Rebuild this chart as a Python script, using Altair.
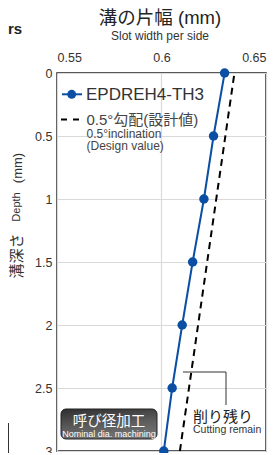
import altair as alt
import pandas as pd

# ---- data ----
depth = [0, 0.5, 1, 1.5, 2, 2.5, 3]
measured = [0.6302, 0.6249, 0.6203, 0.6149, 0.6099, 0.6051, 0.6011]
design_depth = [0, 3]
design_width = [0.6349, 0.6088]
x_ticks = [0.55, 0.6, 0.65]
y_ticks = [0, 0.5, 1, 1.5, 2, 2.5, 3]

series_name = "EPDREH4-TH3"
design_jp = "0.5°勾配(設計値)"
design_en1 = "0.5°inclination"
design_en2 = "(Design value)"
title_jp = "溝の片幅 (mm)"
title_en = "Slot width per side"
ytitle_jp = "溝深さ"
ytitle_en = "Depth"
ytitle_unit = "(mm)"
box_jp = "呼び径加工"
box_en = "Nominal dia. machining"
remain_jp = "削り残り"
remain_en = "Cutting remain"

FONT = "Liberation Sans, 'Noto Sans CJK JP', sans-serif"
BLUE = "#0a4fa3"
W, H = 209, 378

df = pd.DataFrame({"depth": depth, "width": measured})
dd = pd.DataFrame({"depth": design_depth, "width": design_width})
one = pd.DataFrame({"a": [0]})

xs = alt.Scale(domain=[0.55, 0.65], nice=False, zero=False)
ys = alt.Scale(domain=[0, 3], reverse=True, nice=False, zero=False)

xenc = alt.X("width:Q", scale=xs, axis=alt.Axis(orient="top", values=x_ticks, format="~g",
                                                 title=None, ticks=False, domain=False,
                                                 labelPadding=9, grid=True))
yenc = alt.Y("depth:Q", scale=ys, axis=alt.Axis(values=y_ticks, format="~g", title=None,
                                                 ticks=False, domain=False, labelPadding=5,
                                                 grid=True))

design = alt.Chart(dd).mark_line(color="black", strokeWidth=2, strokeDash=[7, 5]).encode(
    x=xenc, y=yenc)
line = alt.Chart(df).mark_line(color=BLUE, strokeWidth=2).encode(x="width:Q", y="depth:Q")
pts = alt.Chart(df).mark_point(filled=True, color=BLUE, size=90, opacity=1).encode(
    x="width:Q", y="depth:Q")


def txt(s, x, y, size, color="#333", align="left", angle=0, weight="normal", baseline="middle"):
    return alt.Chart(one).mark_text(text=s, font=FONT, fontSize=size, color=color,
                                    align=align, baseline=baseline, angle=angle,
                                    fontWeight=weight).encode(x=alt.value(x), y=alt.value(y))


layers = [design, line, pts]

# legend
layers.append(alt.Chart(one).mark_rule(color=BLUE, strokeWidth=2).encode(
    x=alt.value(5), x2=alt.value(25), y=alt.value(21.3)))
layers.append(alt.Chart(one).mark_point(filled=True, color=BLUE, size=80, opacity=1).encode(
    x=alt.value(14.7), y=alt.value(21.3)))
layers.append(txt(series_name, 29, 21.5, 17))
layers.append(alt.Chart(one).mark_rule(color="black", strokeWidth=2, strokeDash=[6, 6]).encode(
    x=alt.value(4), x2=alt.value(25), y=alt.value(46.5)))
layers.append(txt(design_jp, 29.5, 46.5, 15, color="#444"))
layers.append(txt(design_en1, 29.5, 60.5, 12, color="#444"))
layers.append(txt(design_en2, 29.5, 72.5, 12, color="#444"))

# titles
layers.append(txt(title_jp, 103, -55, 18.5, align="center", color="#222"))
layers.append(txt(title_en, 103, -37, 12, align="center", color="#333"))
layers.append(txt(ytitle_jp, -40.5, 183, 15, align="center", angle=270, color="#333"))
layers.append(txt(ytitle_en, -40.5, 134, 11, align="center", angle=270, color="#333"))
layers.append(txt(ytitle_unit, -39, 95, 13, align="center", angle=270, color="#333"))
layers.append(txt("rs", -49, -44, 15, align="left", weight="bold", color="#222"))

# nominal box
layers.append(alt.Chart(one).mark_rect(
    cornerRadius=5,
    fill=alt.Gradient(gradient="linear", x1=0, y1=0, x2=0.3, y2=1,
                      stops=[alt.GradientStop(color="#2e2e2e", offset=0),
                             alt.GradientStop(color="#5c5c5c", offset=0.6),
                             alt.GradientStop(color="#707070", offset=1)]),
    stroke="#222", strokeWidth=1).encode(
    x=alt.value(4), x2=alt.value(100), y=alt.value(336), y2=alt.value(366)))
layers.append(txt(box_jp, 52, 348.5, 14.5, align="center", color="white"))
layers.append(txt(box_en, 52, 360.5, 9, align="center", color="white"))

# cutting remain annotation
layers.append(alt.Chart(one).mark_rule(color="#333", strokeWidth=1).encode(
    x=alt.value(126), x2=alt.value(169), y=alt.value(299)))
layers.append(alt.Chart(one).mark_rule(color="#333", strokeWidth=1).encode(
    x=alt.value(169), y=alt.value(299), y2=alt.value(332)))
layers.append(txt(remain_jp, 136, 343.5, 15, color="#222"))
layers.append(txt(remain_en, 136, 357, 10.5, color="#333"))

# partial box fragment at bottom-left
layers.append(alt.Chart(one).mark_rule(color="#333", strokeWidth=1).encode(
    x=alt.value(-48.5), y=alt.value(350), y2=alt.value(390)))

chart = alt.layer(*layers).properties(
    width=W, height=H,
    autosize=alt.AutoSizeParams(type="none"),
    padding={"left": 49, "top": 65, "right": 2, "bottom": 2},
).configure_view(stroke="#222", strokeWidth=1.5).configure_axis(
    labelFont=FONT, labelFontSize=12.5, labelColor="#333", gridColor="#d9d9d9", gridWidth=1.2
)

chart.save("out.html", embed_options={"renderer": "svg", "actions": False})
